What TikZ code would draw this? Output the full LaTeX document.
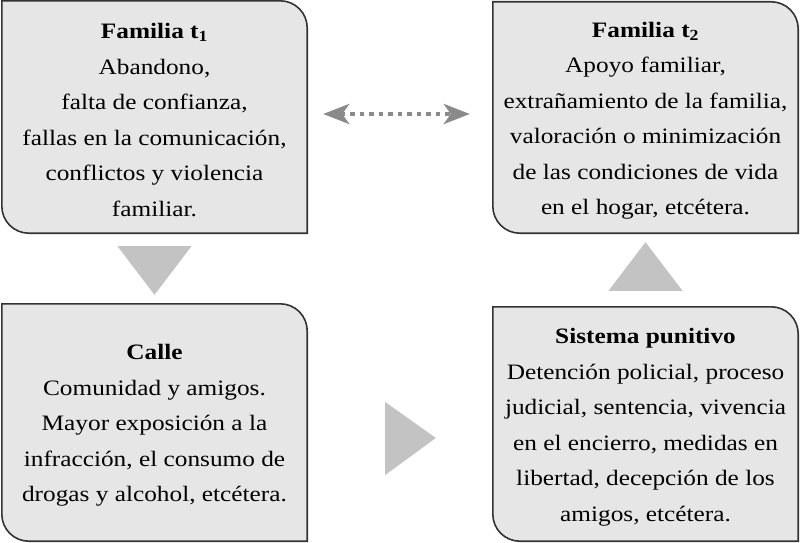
\documentclass[tikz,border=0pt]{standalone}
\usepackage{fontspec}
\setmainfont{Liberation Serif}[FakeStretch=1.15]
\usetikzlibrary{arrows.meta,backgrounds}
\definecolor{boxgray}{HTML}{E6E6E6}
\definecolor{framegray}{HTML}{333333}
\definecolor{trigray}{HTML}{C3C3C3}
\definecolor{arrowgray}{HTML}{8A8A8A}

\begin{document}
\begin{tikzpicture}[x=1pt,y=1pt]
    \tikzstyle{box}=[minimum width=305pt,minimum height=232pt,inner sep=0pt,
        align=center,font=\fontsize{22}{35.5}\selectfont]
    \tikzstyle{frame}=[draw=framegray,line width=1.6pt,fill=boxgray]
    \tikzstyle{tri}=[fill=trigray]
    \tikzstyle{dotarrow}=[draw=arrowgray,line width=4.5pt,dash pattern=on 4.5pt off 5pt,
        {Stealth[length=26pt,width=20pt,inset=7pt]}-{Stealth[length=26pt,width=20pt,inset=7pt]}]
    \useasboundingbox (0,0) rectangle (800,542);
    % Boxes (text sits 3pt below the middle of its frame)
    \node[box] (famA) at (154.5,422) {\textbf{Familia t\textsubscript{1}}\\Abandono,\\
        falta de confianza,\\fallas en la comunicación,\\conflictos y violencia\\familiar.};
    \node[box,minimum height=231pt] (famB) at (645.5,421.5) {\textbf{Familia t\textsubscript{2}}\\
        Apoyo familiar,\\extrañamiento de la familia,\\valoración o minimización\\
        de las condiciones de vida\\en el hogar, etcétera.};
    \node[box,minimum height=237pt] (calle) at (154.5,116.5) {\textbf{Calle}\\
        Comunidad y amigos.\\Mayor exposición a la\\infracción, el consumo de\\
        drogas y alcohol, etcétera.};
    \node[box,minimum height=234pt] (castigo) at (645.5,115) {\textbf{Sistema punitivo}\\
        Detención policial, proceso\\judicial, sentencia, vivencia\\en el encierro, medidas en\\
        libertad, decepción de los\\amigos, etcétera.};
    \begin{scope}[on background layer]
    \foreach \n in {famA,famB,calle,castigo}
        \draw[frame] ([yshift=3pt]\n.north west) -- ([xshift=-27pt,yshift=3pt]\n.north east)
            arc[start angle=90,end angle=0,radius=27pt] -- ([yshift=3pt]\n.south east)
            -- ([xshift=27pt,yshift=3pt]\n.south west)
            arc[start angle=270,end angle=180,radius=27pt] -- cycle;
    \end{scope}
    % Arrows
    \fill[tri] ([xshift=-37pt,yshift=-10pt]famA.south) -- ([xshift=37pt,yshift=-10pt]famA.south)
        -- ([yshift=12pt]calle.north) -- cycle;
    \fill[tri] ([xshift=-37pt,yshift=19pt]castigo.north) -- ([xshift=37pt,yshift=19pt]castigo.north)
        -- ([yshift=-6pt]famB.south) -- cycle;
    \fill[tri] ([xshift=78pt,yshift=23.5pt]calle.east) -- ([xshift=78pt,yshift=-49.5pt]calle.east)
        -- ([xshift=-57pt,yshift=-11pt]castigo.west) -- cycle;
    \draw[dotarrow,shorten <=16pt,shorten >=23pt] ([yshift=6pt]famA.east) -- ([yshift=6.5pt]famB.west);
\end{tikzpicture}
\end{document}
